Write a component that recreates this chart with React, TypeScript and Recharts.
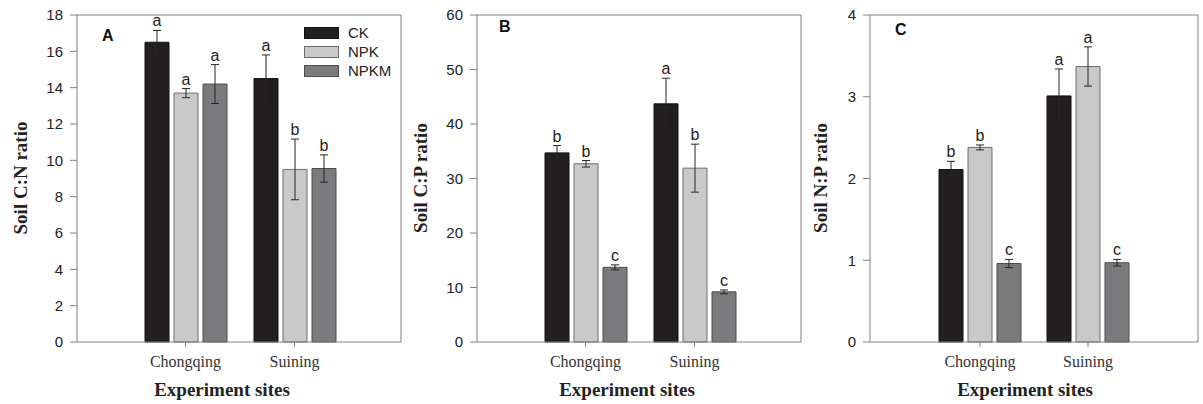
import React from "react";
import { BarChart, Bar, XAxis, YAxis, ErrorBar, LabelList, Legend } from "recharts";

const sites = ["Chongqing", "Suining"];
const treatments = ["CK", "NPK", "NPKM"];
const fills = ["#231f20", "#c9c9c9", "#7b7b7d"];
const strokes = ["#111111", "#6e6e6e", "#4d4d4d"];

// A: soil C:N ratio
const cnCK = [16.5, 14.5];
const cnNPK = [13.7, 9.5];
const cnNPKM = [14.2, 9.55];
const cnCKErr = [0.65, 1.3];
const cnNPKErr = [0.25, 1.67];
const cnNPKMErr = [1.07, 0.75];
const cnCKSig = ["a", "a"];
const cnNPKSig = ["a", "b"];
const cnNPKMSig = ["a", "b"];
const cnTicks = [0, 2, 4, 6, 8, 10, 12, 14, 16, 18];

// B: soil C:P ratio
const cpCK = [34.7, 43.7];
const cpNPK = [32.7, 31.9];
const cpNPKM = [13.7, 9.2];
const cpCKErr = [1.35, 4.7];
const cpNPKErr = [0.6, 4.4];
const cpNPKMErr = [0.45, 0.35];
const cpCKSig = ["b", "a"];
const cpNPKSig = ["b", "b"];
const cpNPKMSig = ["c", "c"];
const cpTicks = [0, 10, 20, 30, 40, 50, 60];

// C: soil N:P ratio
const npCK = [2.11, 3.01];
const npNPK = [2.38, 3.37];
const npNPKM = [0.96, 0.97];
const npCKErr = [0.1, 0.33];
const npNPKErr = [0.03, 0.24];
const npNPKMErr = [0.05, 0.04];
const npCKSig = ["b", "a"];
const npNPKSig = ["b", "a"];
const npNPKMSig = ["c", "c"];
const npTicks = [0, 1, 2, 3, 4];

type Row = Record<string, string | number>;

function makeRows(means: number[][], errs: number[][], sigs: string[][]): Row[] {
  return sites.map((site, i) => {
    const row: Row = { site };
    treatments.forEach((t, j) => {
      row[t] = means[j][i];
      row[t + "_err"] = errs[j][i];
      row[t + "_sig"] = sigs[j][i];
    });
    return row;
  });
}

const cnData = makeRows([cnCK, cnNPK, cnNPKM], [cnCKErr, cnNPKErr, cnNPKMErr], [cnCKSig, cnNPKSig, cnNPKMSig]);
const cpData = makeRows([cpCK, cpNPK, cpNPKM], [cpCKErr, cpNPKErr, cpNPKMErr], [cpCKSig, cpNPKSig, cpNPKMSig]);
const npData = makeRows([npCK, npNPK, npNPKM], [npCKErr, npNPKErr, npNPKMErr], [npCKSig, npNPKSig, npNPKMSig]);

const SANS = "'Liberation Sans', Arial, sans-serif";
const SERIF = "'Liberation Serif', 'Times New Roman', serif";
const AXIS = "#808080";

function LegendBox() {
  return (
    <div style={{ fontFamily: SANS, fontSize: 15, color: "#222" }}>
      {treatments.map((t, j) => (
        <div key={t} style={{ display: "flex", alignItems: "center", height: 19 }}>
          <div
            style={{
              width: 33,
              height: 10,
              background: fills[j],
              border: `1px solid ${strokes[j]}`,
              marginRight: 9,
            }}
          />
          <span>{t}</span>
        </div>
      ))}
    </div>
  );
}

interface PanelProps {
  data: Row[];
  ticks: number[];
  yLabel: string;
  letter: string;
  left: number;
  width: number;
  marginLeft: number;
  marginRight: number;
  padL: number;
  padR: number;
  letterX: number;
  letterY: number;
  titleX: number;
  showLegend?: boolean;
}

function Panel(p: PanelProps) {
  const yMax = p.ticks[p.ticks.length - 1];
  return (
    <div style={{ position: "absolute", left: p.left, top: 0 }}>
      <BarChart
        width={p.width}
        height={404}
        data={p.data}
        margin={{ top: 14, right: p.marginRight, bottom: 30, left: p.marginLeft }}
        barSize={24}
        barGap={5}
        style={{ overflow: "visible" }}
      >
        <XAxis
          dataKey="site"
          height={32}
          padding={{ left: p.padL, right: p.padR }}
          axisLine={{ stroke: AXIS }}
          tickLine={{ stroke: AXIS }}
          tickSize={5}
          tickMargin={9}
          tick={{ fontFamily: SERIF, fontSize: 16, fill: "#333" }}
          label={{
            content: () => (
              <text
                x={p.titleX}
                y={396}
                textAnchor="middle"
                fontFamily={SERIF}
                fontWeight="bold"
                fontSize={19}
                fill="#222"
              >
                Experiment sites
              </text>
            ),
          }}
        />
        <XAxis
          xAxisId="top"
          dataKey="site"
          orientation="top"
          height={1}
          tick={false}
          tickLine={false}
          axisLine={{ stroke: AXIS }}
          label={{
            content: () => (
              <text
                x={p.letterX}
                y={p.letterY}
                fontFamily={SANS}
                fontWeight="bold"
                fontSize={16}
                fill="#111"
              >
                {p.letter}
              </text>
            ),
          }}
        />
        <YAxis
          width={50}
          domain={[0, yMax]}
          ticks={p.ticks}
          interval={0}
          axisLine={{ stroke: AXIS }}
          tickLine={{ stroke: AXIS }}
          tickSize={7}
          tickMargin={7}
          tick={{ fontFamily: SANS, fontSize: 15, fill: "#222" }}
          label={{
            content: () => (
              <text
                x={20}
                y={178}
                transform="rotate(-90 20 178)"
                textAnchor="middle"
                dominantBaseline="central"
                fontFamily={SERIF}
                fontWeight="bold"
                fontSize={19}
                fill="#222"
              >
                {p.yLabel}
              </text>
            ),
          }}
        />
        <YAxis
          yAxisId="right"
          orientation="right"
          width={1}
          domain={[0, yMax]}
          tick={false}
          tickLine={false}
          axisLine={{ stroke: AXIS }}
        />
        {p.showLegend && (
          <Legend
            layout="vertical"
            align="center"
            verticalAlign="middle"
            wrapperStyle={{ left: 304, top: 23, width: 100 }}
            content={() => <LegendBox />}
          />
        )}
        {treatments.map((t, j) => (
          <Bar
            key={t}
            dataKey={t}
            name={t}
            fill={fills[j]}
            stroke={strokes[j]}
            strokeWidth={1}
            isAnimationActive={false}
          >
            <ErrorBar dataKey={t + "_err"} width={4} stroke="#262626" strokeWidth={1} direction="y" />
            <LabelList
              dataKey={t + "_sig"}
              content={(lp: any) => {
                const { x, y, width, height, value, index } = lp;
                const row = p.data[index];
                const mean = row[t] as number;
                const err = row[t + "_err"] as number;
                const errPx = (err / mean) * height;
                return (
                  <text
                    x={x + width / 2}
                    y={y - errPx - 4}
                    textAnchor="middle"
                    fontFamily={SANS}
                    fontSize={16}
                    fill="#222"
                  >
                    {value}
                  </text>
                );
              }}
            />
          </Bar>
        ))}
      </BarChart>
    </div>
  );
}

export default function App() {
  return (
    <div
      style={{
        position: "absolute",
        left: 0,
        top: 0,
        width: 1203,
        height: 404,
        background: "#fff",
        overflow: "hidden",
      }}
    >
      <Panel
        data={cnData}
        ticks={cnTicks}
        yLabel="Soil C:N ratio"
        letter="A"
        left={0}
        width={402}
        marginLeft={27}
        marginRight={0}
        padL={54}
        padR={52}
        letterX={102}
        letterY={41}
        titleX={222}
        showLegend
      />
      <Panel
        data={cpData}
        ticks={cpTicks}
        yLabel="Soil C:P ratio"
        letter="B"
        left={400}
        width={402}
        marginLeft={27}
        marginRight={0}
        padL={54}
        padR={52}
        letterX={99}
        letterY={32}
        titleX={227}
      />
      <Panel
        data={npData}
        ticks={npTicks}
        yLabel="Soil N:P ratio"
        letter="C"
        left={800}
        width={403}
        marginLeft={20}
        marginRight={4}
        padL={56}
        padR={56}
        letterX={95}
        letterY={35}
        titleX={225}
      />
    </div>
  );
}
